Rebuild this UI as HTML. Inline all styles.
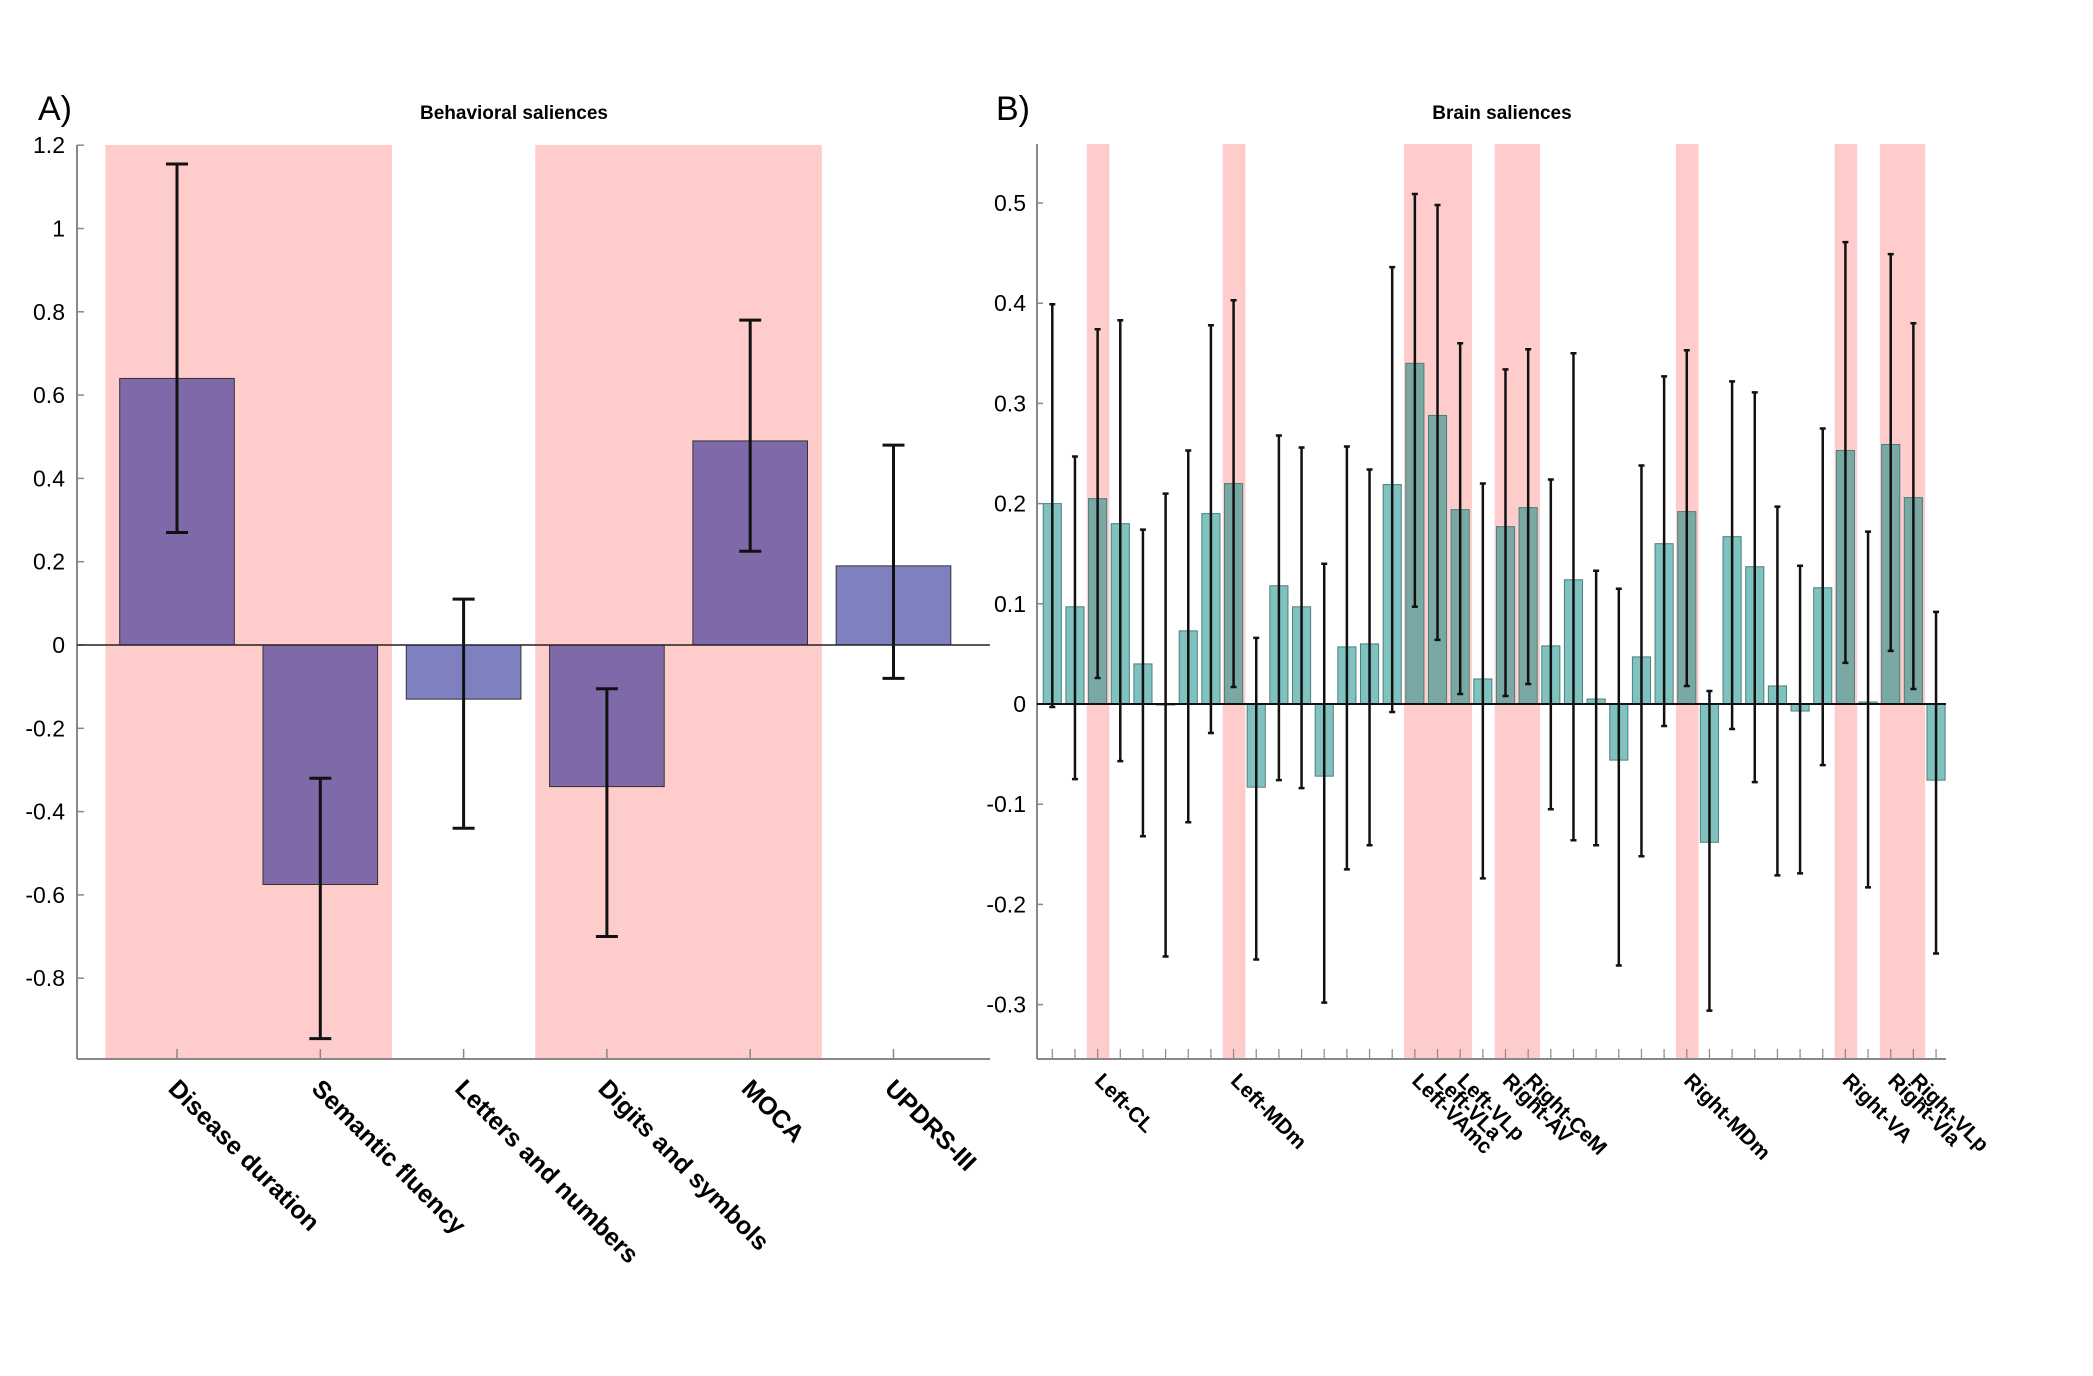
<!DOCTYPE html>
<html><head><meta charset="utf-8"><style>
html,body{margin:0;padding:0;background:#fff;}
svg{display:block;font-family:"Liberation Sans",sans-serif;}
</style></head><body>
<svg id="chart" width="2093" height="1376" viewBox="0 0 2093 1376" xmlns="http://www.w3.org/2000/svg">
<g id="pa"></g>
<g id="pb"></g>
</svg>
<script>
// ---- Panel A data ----
const catsA = ["Disease duration","Semantic fluency","Letters and numbers","Digits and symbols","MOCA","UPDRS-III"];
const valsA = [0.64,-0.575,-0.13,-0.34,0.49,0.19];
const errHiA = [1.155,-0.32,0.11,-0.105,0.78,0.48];
const errLoA = [0.27,-0.945,-0.44,-0.70,0.225,-0.08];
const sigA = [true,true,false,true,true,false];
const bandsA = [[0,1],[3,4]];
const ticksA = [1.2,1,0.8,0.6,0.4,0.2,0,-0.2,-0.4,-0.6,-0.8];
const tickLabelsA = ["1.2","1","0.8","0.6","0.4","0.2","0","-0.2","-0.4","-0.6","-0.8"];
// ---- Panel B data ----
const valsB = [0.20,0.097,0.205,0.18,0.04,-0.001,0.073,0.19,0.22,-0.083,0.118,0.097,-0.072,0.057,0.06,0.219,0.34,0.288,0.194,0.025,0.177,0.196,0.058,0.124,0.005,-0.056,0.047,0.16,0.192,-0.138,0.167,0.137,0.018,-0.007,0.116,0.253,0.002,0.259,0.206,-0.076];
const errHiB = [0.399,0.247,0.374,0.383,0.174,0.210,0.253,0.378,0.403,0.066,0.268,0.256,0.140,0.257,0.234,0.436,0.509,0.498,0.360,0.220,0.334,0.354,0.224,0.350,0.133,0.115,0.238,0.327,0.353,0.013,0.322,0.311,0.197,0.138,0.275,0.461,0.172,0.449,0.380,0.092];
const errLoB = [-0.003,-0.075,0.026,-0.057,-0.132,-0.252,-0.118,-0.029,0.017,-0.255,-0.076,-0.084,-0.298,-0.165,-0.141,-0.008,0.097,0.064,0.010,-0.174,0.008,0.020,-0.105,-0.136,-0.141,-0.261,-0.152,-0.022,0.018,-0.306,-0.025,-0.078,-0.171,-0.169,-0.061,0.041,-0.183,0.053,0.015,-0.249];
const sigIdxB = [2,8,16,17,18,20,21,28,35,37,38];
const sigLabelsB = ["Left-CL","Left-MDm","Left-VAmc","Left-VLa","Left-VLp","Right-AV","Right-CeM","Right-MDm","Right-VA","Right-Vla","Right-VLp"];
const ticksB = [0.5,0.4,0.3,0.2,0.1,0,-0.1,-0.2,-0.3];
const tickLabelsB = ["0.5","0.4","0.3","0.2","0.1","0","-0.1","-0.2","-0.3"];

const NS="http://www.w3.org/2000/svg";
function mk(parent,tag,attrs,text){const e=document.createElementNS(NS,tag);for(const k in attrs)e.setAttribute(k,attrs[k]);if(text!==undefined)e.textContent=text;parent.appendChild(e);return e;}

// ---- Panel A ----
(function(){
const g=document.getElementById('pa');
const x0=77,x1=990,yTop=145,yBot=1059;
const yA=v=>645-v*416.5;
const step=143.3, first=177;
const xA=i=>first+i*step;
let t=mk(g,'text',{x:38,y:120,'font-size':34,fill:'#000'},'A)');

t=mk(g,'text',{x:514,y:119,'font-size':19,'font-weight':'bold','text-anchor':'middle',fill:'#000'},'Behavioral saliences');

bandsA.forEach(bd=>{
  const r=mk(g,'rect',{x:xA(bd[0])-step/2,y:yTop,width:step*(bd[1]-bd[0]+1),height:yBot-yTop,fill:'#ffcccc'});
  
});
let a=mk(g,'line',{x1:x0,y1:yTop,x2:x0,y2:yBot,stroke:'#888','stroke-width':2});

a=mk(g,'line',{x1:x0,y1:yBot,x2:x1,y2:yBot,stroke:'#888','stroke-width':2});

ticksA.forEach((v,i)=>{
  mk(g,'line',{x1:x0,y1:yA(v),x2:x0+7,y2:yA(v),stroke:'#888','stroke-width':1.5});
  const l=mk(g,'text',{x:65,y:yA(v)+8,'font-size':23,'text-anchor':'end',fill:'#000'},tickLabelsA[i]);
  
});
catsA.forEach((c,i)=>{
  const x=xA(i), w=step*0.8;
  const y0=yA(0), y=yA(valsA[i]);
  const b=mk(g,'rect',{x:x-w/2,y:Math.min(y,y0),width:w,height:Math.abs(y-y0),fill:sigA[i]?'#7f69a8':'#7f80c0',stroke:'#333','stroke-width':1});
  
  mk(g,'line',{x1:x,y1:yBot,x2:x,y2:yBot-10,stroke:'#888','stroke-width':1.5});
  const hi=yA(errHiA[i]),lo=yA(errLoA[i]);
  const e=mk(g,'path',{d:`M${x},${hi}V${lo}M${x-11},${hi}H${x+11}M${x-11},${lo}H${x+11}`,stroke:'#111','stroke-width':3,fill:'none'});
  
  const l=mk(g,'text',{x:x-10,y:1090,'font-size':25,'font-weight':'bold',fill:'#000',transform:`rotate(45 ${x-10} 1090)`},c);
  
});
a=mk(g,'line',{x1:x0,y1:yA(0),x2:x1,y2:yA(0),stroke:'#222','stroke-width':1.5});

})();

// ---- Panel B ----
(function(){
const g=document.getElementById('pb');
const x0=1037,x1=1946,yTop=144,yBot=1059;
const yB=v=>704-v*1002;
const step=22.66, first=1052.3;
const xB=i=>first+i*step;
let t=mk(g,'text',{x:996,y:120,'font-size':34,fill:'#000'},'B)');

t=mk(g,'text',{x:1502,y:119,'font-size':19,'font-weight':'bold','text-anchor':'middle',fill:'#000'},'Brain saliences');

sigIdxB.forEach(i=>{
  const r=mk(g,'rect',{x:xB(i)-step/2+0.5,y:yTop,width:step,height:yBot-yTop,fill:'#ffcccc'});
  
});
let a=mk(g,'line',{x1:x0,y1:yTop,x2:x0,y2:yBot,stroke:'#888','stroke-width':2});

a=mk(g,'line',{x1:x0,y1:yBot,x2:x1,y2:yBot,stroke:'#888','stroke-width':2});

ticksB.forEach((v,i)=>{
  mk(g,'line',{x1:x0,y1:yB(v),x2:x0+6,y2:yB(v),stroke:'#888','stroke-width':1.5});
  const l=mk(g,'text',{x:1026,y:yB(v)+8,'font-size':23,'text-anchor':'end',fill:'#000'},tickLabelsB[i]);
  
});
valsB.forEach((v,i)=>{
  const x=xB(i), w=step*0.8, y0=yB(0), y=yB(v);
  const sig=sigIdxB.indexOf(i)>=0;
  const b=mk(g,'rect',{x:x-w/2,y:Math.min(y,y0),width:w,height:Math.max(1,Math.abs(y-y0)),fill:sig?'#7aa8a5':'#7fc2bf',stroke:'#4d7f7d','stroke-width':1});
  
  mk(g,'line',{x1:x,y1:yBot,x2:x,y2:yBot-10,stroke:'#888','stroke-width':1.2});
  const hi=yB(errHiB[i]),lo=yB(errLoB[i]);
  const e=mk(g,'path',{d:`M${x},${hi}V${lo}M${x-3},${hi}H${x+3}M${x-3},${lo}H${x+3}`,stroke:'#111','stroke-width':2.5,fill:'none'});
  
});
sigIdxB.forEach((idx,k)=>{
  const x=xB(idx)-4;
  const l=mk(g,'text',{x:x,y:1082,'font-size':21,'font-weight':'bold',fill:'#000',transform:`rotate(45 ${x} 1082)`},sigLabelsB[k]);
  
});
a=mk(g,'line',{x1:x0,y1:yB(0),x2:x1,y2:yB(0),stroke:'#111','stroke-width':2});

})();
</script>
</body></html>
